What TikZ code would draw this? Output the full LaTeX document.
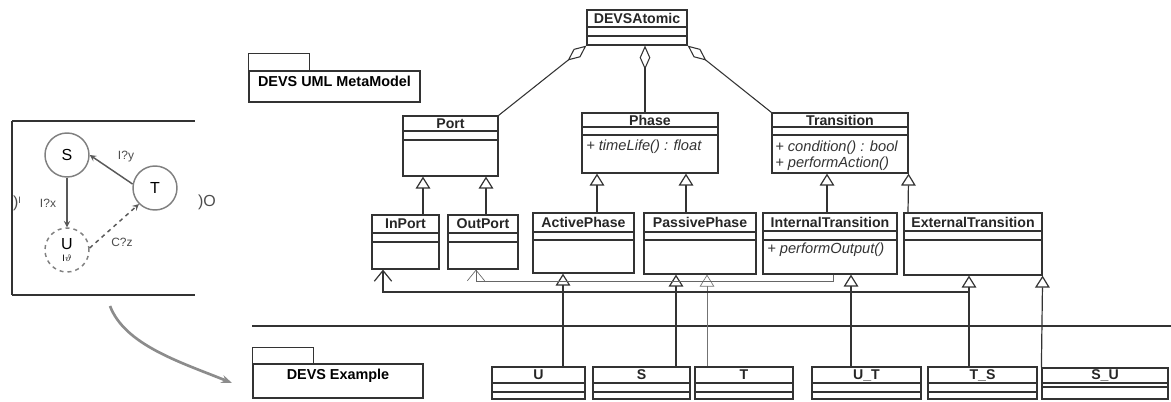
\documentclass[tikz,border=0pt]{standalone}
\usepackage{fontspec}
\setmainfont{Liberation Sans}
\usepackage{tikz}
\usetikzlibrary{arrows.meta,fit}

% class box: name, x1, y1, x2, y2, divider 1, divider 2, title
\newcommand{\umlclass}[8]{%
  \node[cls, fit={(#2,#3) (#4,#5)}] (#1) {};
  \draw[cls] (#2,#6) -- (#4,#6) (#2,#7) -- (#4,#7);
  \node[clsname] at ({(#2+#4)/2},{(#3+#6)/2}) {#8};
}

\begin{document}
\begin{tikzpicture}[x=0.75pt,y=-0.75pt,>=stealth,
  cls/.style={draw=black!80,line width=0.9pt,inner sep=0pt},
  clsname/.style={font=\fontsize{10.6}{12}\selectfont\bfseries,text=black!85,inner sep=0pt},
  op/.style={font=\fontsize{11}{12}\selectfont\itshape,anchor=west,inner sep=0pt,text=black!80},
  pkg/.style={draw=black!80,line width=0.9pt,inner sep=0pt,font=\fontsize{10.8}{12}\selectfont\bfseries},
  gen/.style={draw=black!80,line width=0.9pt,-{Triangle[open,length=9pt,width=11pt]}},
  aggr/.style={draw=black!80,line width=0.8pt,{Diamond[open,length=18pt,width=8pt]}-},
  assoc/.style={draw=black!80,line width=0.9pt,-{Straight Barb[length=8pt,width=13pt]}},
  state/.style={circle,draw=black!50,line width=1.1pt,minimum size=33pt,inner sep=0pt,font=\fontsize{12}{12}\selectfont},
  flow/.style={draw=black!65,line width=1.1pt,->},
  lbl/.style={font=\fontsize{9}{10}\selectfont,text=black!70,inner sep=0pt}]
  \useasboundingbox (0,0) rectangle (1171,401);

  % small DEVS model on the left
  \draw[line width=2pt,black!80] (12,121) -- (12,295);
  \draw[line width=1.2pt,black!80] (12,121) -- (195,121) (12,295) -- (195,295);
  \node[state] (ss) at (67,155) {S};
  \node[state] (st) at (155,188) {T};
  \node[state,dashed,align=center] (su) at (67,250) {U\\[-3pt]{\fontsize{7}{8}\selectfont I$\vartheta$}};
  \draw[flow] (ss) -- (su);
  \draw[flow] (st.170) -- (ss.east);
  \draw[flow,dashed] (su.5) -- (st.225);
  \node[lbl] (lx) at (48,203) {I?x};
  \node[lbl] (ly) at (126,157) {I?y};
  \node[lbl] (lz) at (122,242) {C?z};
  \node[lbl,font=\fontsize{12}{12}\selectfont] (pin) at (17,203) {)\raisebox{3pt}{\fontsize{7}{8}\selectfont I}};
  \node[lbl,font=\fontsize{12}{12}\selectfont] (pout) at (207,202) {)O};
  \coordinate (cstart) at (110,306);
  \coordinate (cend) at (232,383);
  \draw[line width=2pt,black!45,-{Stealth[length=8pt,width=6pt]}] (cstart) .. controls (125,345) and (180,362) .. (cend);

  % packages
  \node[pkg, fit={(249,71) (420,102)}] (meta) {DEVS UML MetaModel};
  \draw[pkg] (meta.north west) rectangle ++(61,-17);
  \node[pkg, fit={(253,364) (423,398)}] (ex) {DEVS Example};
  \draw[pkg] (ex.north west) rectangle ++(61,-16);
  \draw[black!80,line width=0.8pt] (252,326) -- (1171,326);

  % meta model classes
  \umlclass{atomic}{587}{10}{687}{45}{27}{36}{DEVSAtomic}
  \umlclass{port}{403}{116}{498}{176}{131}{140}{Port}
  \umlclass{phase}{582}{113}{718}{173}{127}{135}{Phase}
  \umlclass{trans}{772}{113}{908}{173}{127}{135}{Transition}
  \umlclass{inport}{372}{215}{439}{269}{233}{242}{InPort}
  \umlclass{outport}{448}{215}{518}{269}{233}{242}{OutPort}
  \umlclass{aphase}{533}{213}{634}{273}{232}{240}{ActivePhase}
  \umlclass{pphase}{644}{213}{756}{274}{232}{240}{PassivePhase}
  \umlclass{itrans}{763}{213}{897}{274}{231}{240}{InternalTransition}
  \umlclass{etrans}{904}{213}{1042}{275}{231}{240}{ExternalTransition}
  \node[op] (optime) at (586,147) {+ timeLife() : float};
  \node[op] (opcond) at (775,148) {+ condition() : bool};
  \node[op] (opact) at (775,164) {+ performAction()};
  \node[op] (opout) at (767,250) {+ performOutput()};

  % example classes
  \umlclass{cu}{492}{367}{585}{399}{383}{392}{U}
  \umlclass{cs}{593}{367}{690}{399}{383}{392}{S}
  \umlclass{ct}{695}{367}{793}{399}{383}{392}{T}
  \umlclass{cut}{812}{367}{921}{399}{383}{392}{U\_T}
  \umlclass{cts}{928}{367}{1037}{399}{383}{392}{T\_S}
  \umlclass{csu}{1042}{368}{1168}{399}{383}{387}{S\_U}

  % aggregation
  \draw[aggr] (atomic.south west) -- (port.north east);
  \draw[aggr] (atomic.south -| 645,0) -- (phase.north -| 645,0);
  \draw[aggr] (atomic.south east) -- (trans.north west);

  % generalization
  \draw[gen] (inport.north -| 423,0) -- (port.south -| 423,0);
  \draw[gen] (outport.north -| 486,0) -- (port.south -| 486,0);
  \draw[gen] (aphase.north -| 597,0) -- (phase.south -| 597,0);
  \draw[gen] (pphase.north -| 686,0) -- (phase.south -| 686,0);
  \draw[gen] (itrans.north -| 827,0) -- (trans.south -| 827,0);
  \draw[gen] (etrans.north -| 908,0) -- (trans.south east);
  \draw[gen] (cu.north -| 563,0) -- (aphase.south -| 563,0);
  \draw[gen] (cs.north -| 676,0) -- (pphase.south -| 676,0);
  \draw[gen,line width=0.5pt,black!55] (ct.north -| 707,0) -- (pphase.south -| 707,0);
  \draw[gen] (cut.north -| 851,0) -- (itrans.south -| 851,0);
  \draw[gen] (cts.north -| 969,0) -- (etrans.south -| 969,0);
  \draw[gen] (csu.north west) -- (etrans.south east);

  % ports
  \coordinate (jin) at (969,292);
  \draw[assoc] (jin) -| (inport.south -| 383,0);
  \draw[assoc,line width=0.5pt,black!60] (itrans.south -| 833,0) -- ++(0,7) -| (outport.south -| 476,0);
\end{tikzpicture}
\end{document}
